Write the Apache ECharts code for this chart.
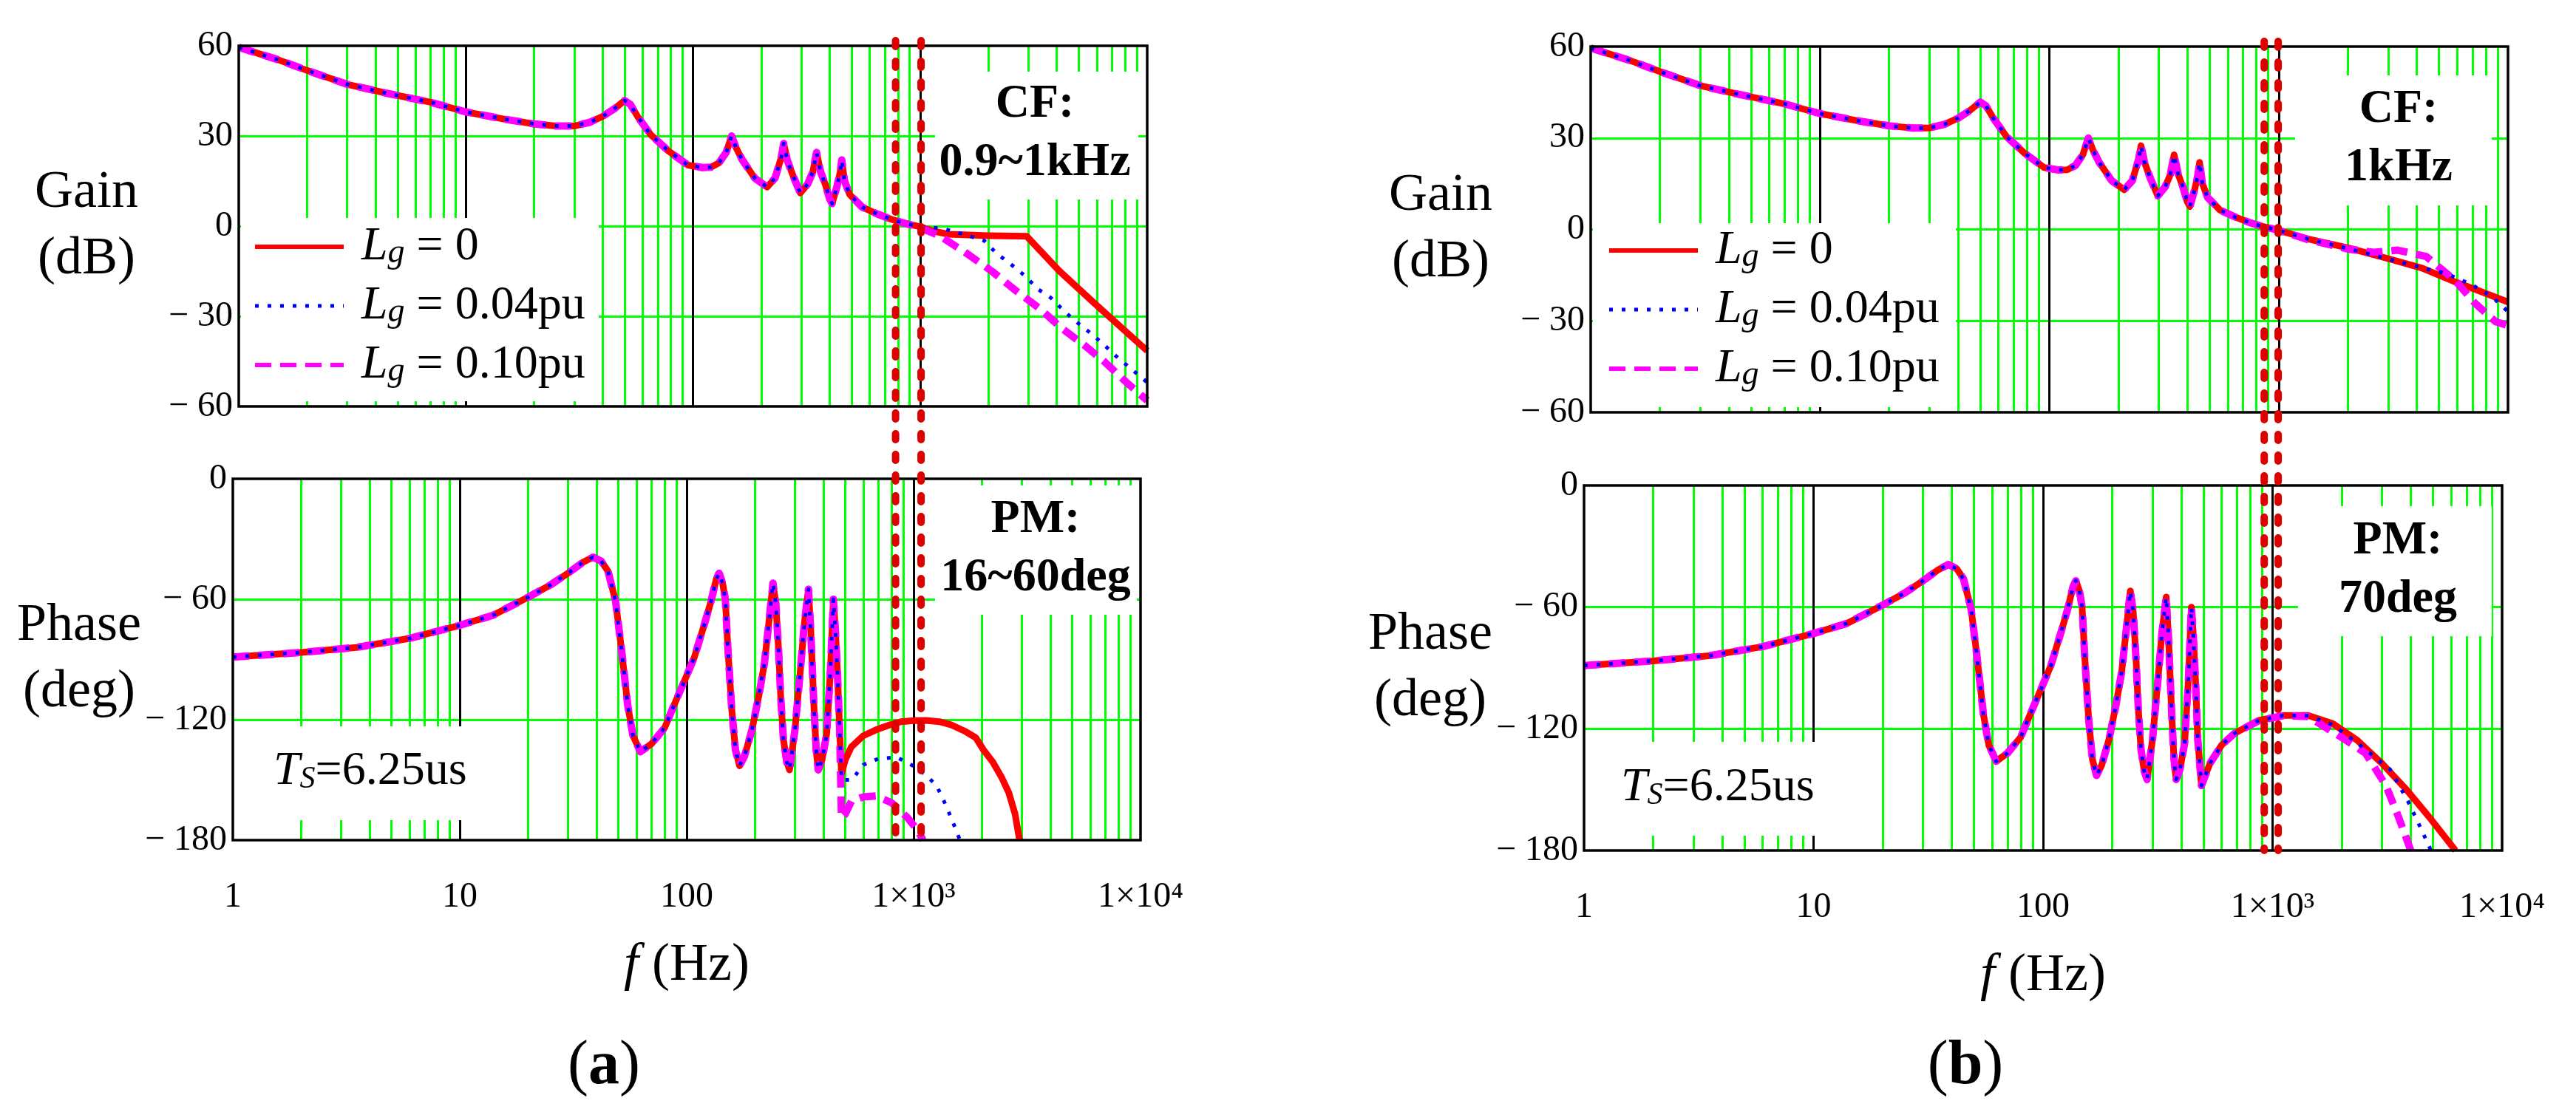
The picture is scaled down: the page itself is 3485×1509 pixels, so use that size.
<!DOCTYPE html>
<html>
<head>
<meta charset="utf-8">
<script src="https://cdn.jsdelivr.net/npm/echarts@6/dist/echarts.min.js"></script>
<style>html,body{margin:0;padding:0;background:#fff}#c{width:3485px;height:1509px}</style>
</head>
<body>
<div id="c"></div>
<script>
// ---------------- DATA ----------------
const NAMES = ['Lg = 0', 'Lg = 0.04pu', 'Lg = 0.10pu'];
const X_TICK_LABELS = ['1', '10', '100', '1×10³', '1×10⁴'];
const GAIN_RANGE = [-60, 60, 30];
const PHASE_RANGE = [-180, 0, 60];
const MINOR_FREQS = [2,3,4,5,6,7,8,9, 20,30,40,50,60,70,80,90, 200,300,400,500,600,700,800,900, 2000,3000,4000,5000,6000,7000,8000,9000];

// common low-frequency part (all three cases overlap)
const freqGain = [1,1.5,2,3,4.5,7,10,15,20,25,30,35,40,45,50,53,57,65,78,95,110,120,130,140,148,155,165,187,212,230,245,251,260,275,297,320,337,350,365,382,400,410,430,445,452,465,490,556,650,750,850];
const gainCommon = [59.5,55.3,51.8,47.2,44.2,41.2,38,35.5,34,33.3,33.3,34.5,36.5,39,41.8,40.5,36.5,30.5,25,20.3,19.5,19.6,21,24.5,30,26,22,16,13,16,23,27.5,22,17,11,14,18,24.5,18,14,9,7.5,13,18,22,15,10.5,6.3,4,2.2,1];
const freqPhase = [1,2,3.5,6,10,14,20,25,30,35,38.7,42,45,48.6,51.5,55,58,62.5,70,80,87,100,108,120,128,135,139,144,148,152,158,164,171,180,194,208,220,230,240,247,254,260,267,276,284,300,316,330,344,352,364,372,380,395,414,430,443,452,462,472];
const phaseCommon = [-88.8,-86.5,-84,-79.5,-73,-68,-59,-53,-47,-41.5,-39,-41,-46,-61,-84,-113,-128,-136,-132,-124,-114,-98,-89,-72,-61,-50,-47,-52,-60,-85,-115,-135,-143,-138,-125,-108,-92,-72,-52,-62,-85,-110,-130,-141,-145,-125,-97,-72,-55,-75,-114,-135,-145,-140,-127,-95,-60,-75,-97,-125];

// (a) gain tails
const aGainRedF  = [1000,1120,1330,2000,2950,4100,6000,10000];
const aGainRedV  = [-0.2,-1.5,-2.7,-3.2,-3.4,-14.9,-26.4,-41.5];
const aGainBlueF = [1000,1080,1285,1590,1920,2170,2520,2860,3320,3770,4380,5090,5740,6520,7300,8500,10000];
const aGainBlueV = [-0.2,-0.3,-1,-2.9,-4.9,-9.1,-12.8,-16.2,-21.1,-23.9,-28.8,-33,-36.1,-39.8,-43.3,-47.5,-52];
const aGainMagF  = [1000,1230,1590,2070,2610,3370,4160,5320,6410,8100,10000];
const aGainMagV  = [-0.5,-3.4,-8.9,-15,-21.2,-27.5,-33.7,-39.8,-44.8,-52,-58];
// (a) phase tails
const aPhRedF  = [481,500,532,600,685,790,880,1000,1135,1300,1460,1700,1880,2030,2230,2450,2630,2800,2930];
const aPhRedV  = [-147,-140,-133.5,-128,-125,-122.5,-121,-120.5,-120.4,-121,-122.5,-126,-129,-135,-141,-149,-156.5,-167,-180];
const aPhBlueF = [481,535,600,698,842,977,1112,1260,1352,1473,1600];
const aPhBlueV = [-150,-150,-142.5,-139.5,-138.7,-142.5,-146.8,-152.7,-159.8,-169.6,-180];
const aPhMagF  = [481,500,532,600,685,800,940,1040,1100];
const aPhMagV  = [-169,-167,-160.6,-158.5,-158,-161.4,-168.8,-175,-180];
// (b) gain tails
const bGainRedF  = [1000,1340,2020,3040,4220,5870,7500,10000];
const bGainRedV  = [-0.3,-3.1,-6.1,-9.7,-12.7,-17.2,-20.2,-23.8];
const bGainBlueF = [1000,1340,2020,3040,4220,5400,6900,8500,10000];
const bGainBlueV = [-0.3,-3.1,-6.3,-9.8,-12.6,-14.5,-18,-22,-27];
const bGainMagF  = [1000,1340,2020,2600,3300,4400,5870,7200,8850,10000];
const bGainMagV  = [-0.3,-3.3,-6.5,-7.5,-6.8,-8.9,-16.7,-24.3,-30.3,-31.5];
// (b) phase tails
const bPhRedF  = [490,534,600,682,873,1117,1429,1828,2337,2993,3829,4898,6266];
const bPhRedV  = [-148,-137,-128,-122.3,-115.8,-113.4,-113.4,-117.4,-125.6,-137,-150,-164.6,-180];
const bPhBlueF = [490,534,600,682,873,1117,1429,1828,2337,3250,3900,4507,4898];
const bPhBlueV = [-148,-137,-128,-122.3,-115.8,-113.4,-113.6,-118,-127,-140,-156,-171,-180];
const bPhMagF  = [490,534,600,682,873,1117,1429,1985,2541,3119,3524,3800,4000];
const bPhMagV  = [-148,-137,-128,-122.3,-116,-113.5,-114,-124,-132,-148,-163,-173,-180];

// crossover marker frequencies (red dashed verticals)
const CF_A = [780, 1010];
const CF_B = [865, 995];

// ---------------- BUILD ----------------
const FONT = "'Liberation Serif', 'Times New Roman', serif";
const zip = (fs, vs) => fs.map((f, i) => [f, vs[i]]);
const STYLES = [
  {color: '#FF0000', width: 9, type: 'solid', legendWidth: 6},
  {color: '#0000FF', width: 5, type: [5, 12], legendWidth: 5},
  {color: '#FF00FF', width: 10, type: [22, 12], legendWidth: 6}
];
const DRAW_ORDER = [0, 2, 1];

const GRIDS = [
  {left: 323, top: 62, width: 1229, height: 488},
  {left: 315, top: 648, width: 1228, height: 489},
  {left: 2152, top: 63, width: 1241, height: 495},
  {left: 2143, top: 657, width: 1242, height: 494}
];
const panels = [
  {kind: 'gain',  f: freqGain,  v: gainCommon,  tails: [[aGainRedF, aGainRedV], [aGainBlueF, aGainBlueV], [aGainMagF, aGainMagV]], nameGap: 206, pad: 94},
  {kind: 'phase', f: freqPhase, v: phaseCommon, tails: [[aPhRedF, aPhRedV], [aPhBlueF, aPhBlueV], [aPhMagF, aPhMagV]], nameGap: 199, pad: 0},
  {kind: 'gain',  f: freqGain,  v: gainCommon,  tails: [[bGainRedF, bGainRedV], [bGainBlueF, bGainBlueV], [bGainMagF, bGainMagV]], nameGap: 203, pad: 100},
  {kind: 'phase', f: freqPhase, v: phaseCommon, tails: [[bPhRedF, bPhRedV], [bPhBlueF, bPhBlueV], [bPhMagF, bPhMagV]], nameGap: 197, pad: 14}
];

const fmtY = v => (v < 0 ? '− ' + Math.abs(v) : String(v));
const fmtX = v => X_TICK_LABELS[Math.round(Math.log10(v))];

const xAxes = [], yAxes = [], series = [];
panels.forEach((p, g) => {
  const isPhase = p.kind === 'phase';
  xAxes.push({
    gridIndex: g, type: 'log', logBase: 10, min: 1, max: 10000,
    axisLine: {show: false}, axisTick: {show: false},
    splitLine: {show: true, showMinLine: false, showMaxLine: false, lineStyle: {color: '#000', width: 3}},
    axisLabel: {show: isPhase, fontSize: 48, fontFamily: FONT, color: '#000', margin: 53, formatter: fmtX},
    name: isPhase ? '{i|f}{n| (Hz)}' : '',
    nameLocation: 'middle', nameGap: 170,
    nameTextStyle: {verticalAlign: 'middle', rich: {
      i: {fontFamily: FONT, fontStyle: 'italic', fontSize: 72, color: '#000'},
      n: {fontFamily: FONT, fontSize: 72, color: '#000'}}}
  });
  const r = isPhase ? PHASE_RANGE : GAIN_RANGE;
  yAxes.push({
    gridIndex: g, type: 'value', min: r[0], max: r[1], interval: r[2],
    axisLine: {show: false}, axisTick: {show: false},
    splitLine: {show: true, showMinLine: false, showMaxLine: false, lineStyle: {color: '#00FF00', width: 3}},
    axisLabel: {fontSize: 48, fontFamily: FONT, color: '#000', margin: 8, formatter: fmtY},
    name: isPhase ? 'Phase\n(deg)' : 'Gain\n(dB)',
    nameLocation: 'middle', nameRotate: 0, nameGap: p.nameGap,
    nameTextStyle: {fontFamily: FONT, fontSize: 72, color: '#000', align: 'center', verticalAlign: 'middle', lineHeight: 90, padding: [p.pad, 0, 0, 0]}
  });
  // minor green grid lines (2..9 of each decade)
  series.push({
    type: 'line', xAxisIndex: g, yAxisIndex: g, data: [], silent: true, z: 1,
    markLine: {silent: true, symbol: 'none', z: 1, animation: false, label: {show: false},
      lineStyle: {color: '#00FF00', width: 3, type: 'solid'},
      emphasis: {disabled: true},
      data: MINOR_FREQS.map(f => ({xAxis: f}))}
  });
  DRAW_ORDER.forEach(idx => {
    const st = STYLES[idx];
    const [tf, tv] = p.tails[idx];
    series.push({
      type: 'line', name: NAMES[idx], xAxisIndex: g, yAxisIndex: g,
      data: zip(p.f.concat(tf), p.v.concat(tv)),
      symbol: 'none', showSymbol: false, silent: true, z: 2,
      lineStyle: {color: st.color, width: st.width, type: st.type, cap: 'butt', join: 'round'},
      itemStyle: {color: st.color}
    });
  });
});

const legendRich = {
  L: {fontFamily: FONT, fontStyle: 'italic', fontSize: 64, lineHeight: 64, color: '#000', padding: [0, 0, 0, 19]},
  g: {fontFamily: FONT, fontStyle: 'italic', fontSize: 46, lineHeight: 38, color: '#000', verticalAlign: 'bottom'},
  t: {fontFamily: FONT, fontSize: 64, lineHeight: 64, color: '#000'}
};
const mkLegend = (left, top) => ({
  orient: 'vertical', left: left, top: top, itemWidth: 120, itemHeight: 20, itemGap: 16,
  padding: 0, selectedMode: false, z: 10,
  data: NAMES.map((n, i) => ({name: n, lineStyle: {width: STYLES[i].legendWidth, type: STYLES[i].type, color: STYLES[i].color}})),
  itemStyle: {opacity: 0},
  formatter: n => '{L|L}{g|g}{t|' + n.slice(2) + '}',
  textStyle: {rich: legendRich}
});

const titleStyle = {fontFamily: FONT, fontSize: 84, fontWeight: 'normal', color: '#000', lineHeight: 84,
  rich: {b: {fontFamily: FONT, fontSize: 84, fontWeight: 'bold', color: '#000', lineHeight: 84}}};

const option = {
  backgroundColor: '#fff',
  animation: false,
  grid: GRIDS.map(g => Object.assign({show: false}, g)),
  xAxis: xAxes,
  yAxis: yAxes,
  legend: [mkLegend(342, 302), mkLegend(2174, 307)],
  title: [
    {text: '({b|a})', left: 817, top: 1402, textAlign: 'center', padding: 0, textStyle: titleStyle},
    {text: '({b|b})', left: 2659, top: 1402, textAlign: 'center', padding: 0, textStyle: titleStyle}
  ],
  series: series
};

const chart = echarts.init(document.getElementById('c'), null, {renderer: 'canvas'});
chart.setOption(option);

// ---------- annotations (boxes, frames, dashed CF lines) ----------
const gfx = [];
const white = (x1, y1, x2, y2) => gfx.push({type: 'rect', z: 3, silent: true,
  shape: {x: x1, y: y1, width: x2 - x1, height: y2 - y1}, style: {fill: '#fff', stroke: null}});
// legend & text boxes
white(326, 295, 810, 543);  white(1265, 97, 1540, 270);
white(1265, 657, 1538, 832); white(318, 983, 660, 1110);
white(2155, 302, 2646, 551); white(3105, 102, 3371, 278);
white(3109, 685, 3371, 861); white(2146, 1004, 2470, 1131);

const boldText = (x, y, txt) => gfx.push({type: 'text', z: 11, silent: true, x: x, y: y,
  style: {text: txt, fill: '#000', fontFamily: FONT, fontSize: 64, fontWeight: 'bold', align: 'center', verticalAlign: 'middle', lineHeight: 79}});
boldText(1400, 181, 'CF:\n0.9~1kHz');
boldText(1401, 743, 'PM:\n16~60deg');
boldText(3245, 188, 'CF:\n1kHz');
boldText(3244, 772, 'PM:\n70deg');

const tsRich = {
  t: {fontFamily: FONT, fontStyle: 'italic', fontSize: 64, lineHeight: 64, fill: '#000', color: '#000'},
  s: {fontFamily: FONT, fontStyle: 'italic', fontSize: 42, lineHeight: 30, fill: '#000', color: '#000', verticalAlign: 'bottom'},
  r: {fontFamily: FONT, fontSize: 64, lineHeight: 64, fill: '#000', color: '#000'}
};
const tsText = (x, y) => gfx.push({type: 'text', z: 11, silent: true, x: x, y: y,
  style: {text: '{t|T}{s|S}{r|=6.25us}', rich: tsRich, fill: '#000', align: 'left', verticalAlign: 'middle'}});
tsText(370, 1044);
tsText(2193, 1066);

// frames
[0, 1, 2, 3].forEach(g => {
  const r = g % 2 ? PHASE_RANGE : GAIN_RANGE;
  const x0 = chart.convertToPixel({xAxisIndex: g}, 1);
  const x1 = chart.convertToPixel({xAxisIndex: g}, 10000);
  const y0 = chart.convertToPixel({yAxisIndex: g}, r[1]);
  const y1 = chart.convertToPixel({yAxisIndex: g}, r[0]);
  gfx.push({type: 'rect', z: 7, silent: true, shape: {x: x0, y: y0, width: x1 - x0, height: y1 - y0},
    style: {fill: 'none', stroke: '#000', lineWidth: 3.5}});
});

// dashed CF lines spanning gain+phase panels
const cfLines = (freqs, gGain, gPhase) => {
  const yTop = chart.convertToPixel({yAxisIndex: gGain}, GAIN_RANGE[1]) - 7;
  const yBot = chart.convertToPixel({yAxisIndex: gPhase}, PHASE_RANGE[0]);
  freqs.forEach(f => {
    const x = chart.convertToPixel({xAxisIndex: gGain}, f);
    gfx.push({type: 'line', z: 8, silent: true, shape: {x1: x, y1: yTop, x2: x, y2: yBot},
      style: {stroke: '#DD0000', lineWidth: 10, lineDash: [8, 20], lineCap: 'round'}});
  });
};
cfLines(CF_A, 0, 1);
cfLines(CF_B, 2, 3);

chart.setOption({graphic: gfx});
</script>
</body>
</html>
